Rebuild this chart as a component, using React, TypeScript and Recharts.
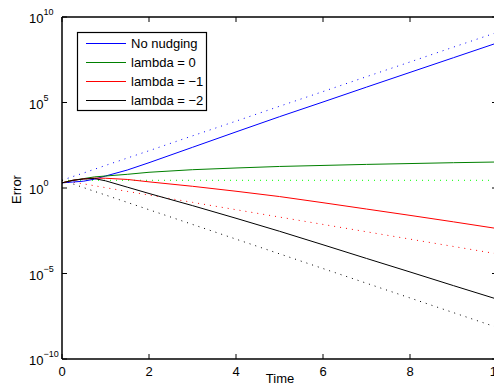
import React from 'react';
import { LineChart, Line, XAxis, YAxis } from 'recharts';

// time samples
const TIMES = [0, 0.25, 0.5, 0.75, 1, 1.5, 2, 3, 4, 5, 6, 7, 8, 9, 10];

// log10(Error)
const NO_NUDGING = [0.3, 0.35, 0.4, 0.52, 0.7, 1.05, 1.48, 2.38, 3.28, 4.17, 5.03, 5.9, 6.76, 7.62, 8.48];
const LAMBDA_0 = [0.3, 0.45, 0.55, 0.65, 0.7, 0.8, 0.92, 1.07, 1.17, 1.26, 1.32, 1.38, 1.43, 1.48, 1.52];
const LAMBDA_M1 = [0.3, 0.45, 0.53, 0.58, 0.57, 0.5, 0.36, 0.1, -0.19, -0.5, -0.86, -1.23, -1.6, -1.98, -2.37];
const LAMBDA_M2 = [0.3, 0.45, 0.53, 0.55, 0.42, 0.05, -0.32, -1.03, -1.77, -2.53, -3.32, -4.12, -4.91, -5.71, -6.5];

const NO_NUDGING_DOT = [0.45, 0.67, 0.88, 1.1, 1.32, 1.75, 2.18, 3.05, 3.91, 4.78, 5.64, 6.51, 7.37, 8.24, 9.1];
const LAMBDA_0_DOT = [0.45, 0.45, 0.45, 0.45, 0.45, 0.45, 0.45, 0.45, 0.45, 0.45, 0.45, 0.45, 0.45, 0.45, 0.45];
const LAMBDA_M1_DOT = [0.45, 0.34, 0.24, 0.13, 0.02, -0.2, -0.41, -0.84, -1.27, -1.7, -2.13, -2.56, -2.99, -3.42, -3.85];
const LAMBDA_M2_DOT = [0.45, 0.24, 0.02, -0.2, -0.41, -0.84, -1.27, -2.13, -2.99, -3.85, -4.71, -5.57, -6.43, -7.29, -8.15];

const X_TICKS = [0, 2, 4, 6, 8, 10];
const Y_EXPONENTS = [-10, -5, 0, 5, 10];
const Y_TICKS = Y_EXPONENTS.map((e) => Math.pow(10, e));

const LEGEND_ITEMS = [
  { label: 'No nudging', color: '#0000ff' },
  { label: 'lambda = 0', color: '#008000' },
  { label: 'lambda = \u22121', color: '#ff0000' },
  { label: 'lambda = \u22122', color: '#000000' },
];

const data = TIMES.map((t, i) => ({
  t,
  nn: Math.pow(10, NO_NUDGING[i]),
  l0: Math.pow(10, LAMBDA_0[i]),
  l1: Math.pow(10, LAMBDA_M1[i]),
  l2: Math.pow(10, LAMBDA_M2[i]),
  nnd: Math.pow(10, NO_NUDGING_DOT[i]),
  l0d: Math.pow(10, LAMBDA_0_DOT[i]),
  l1d: Math.pow(10, LAMBDA_M1_DOT[i]),
  l2d: Math.pow(10, LAMBDA_M2_DOT[i]),
}));

const W = 494;
const H = 384;
const PL = 54;
const PR = 489;
const PT = 9;
const PB = 351;
const LEFT_W = 30;
const RIGHT_W = 1;
const TOP_H = 1;
const BOTTOM_H = 25;
const M = { top: PT - TOP_H, right: W - PR - RIGHT_W, bottom: H - PB - BOTTOM_H, left: PL - LEFT_W };
const FONT = '"Liberation Sans", Arial, Helvetica, sans-serif';
const TICK = 5;

const expLabel = (v: number) => {
  const e = Math.round(Math.log10(v));
  return e < 0 ? '\u2212' + Math.abs(e) : String(e);
};

const LeftTick = (props: any) => {
  const { y, payload } = props;
  return (
    <g>
      <line x1={PL} x2={PL + TICK} y1={y} y2={y} stroke="#000" strokeWidth={1} />
      <text x={PL - 33} y={y + 6} fontSize={13} fontFamily={FONT} fill="#000" textAnchor="start">
        10
        <tspan dy={-8} fontSize={9}>{expLabel(payload.value)}</tspan>
      </text>
    </g>
  );
};

const RightTick = (props: any) => {
  const { y } = props;
  return <line x1={PR - TICK} x2={PR} y1={y} y2={y} stroke="#000" strokeWidth={1} />;
};

const BottomTick = (props: any) => {
  const { x, payload } = props;
  return (
    <g>
      <line x1={x} x2={x} y1={PB} y2={PB - TICK} stroke="#000" strokeWidth={1} />
      <text x={x} y={PB + 17} fontSize={13} fontFamily={FONT} fill="#000" textAnchor="middle">
        {payload.value}
      </text>
    </g>
  );
};

const TopTick = (props: any) => {
  const { x } = props;
  return <line x1={x} x2={x} y1={PT} y2={PT + TICK} stroke="#000" strokeWidth={1} />;
};

const axisLine = { stroke: '#000', strokeWidth: 1.5 };
const DOT = '1 5';

export default function App() {
  return (
    <div style={{ position: 'relative', width: W, height: H, fontFamily: FONT }}>
      <LineChart width={W} height={H} data={data} margin={M}>
        <XAxis
          xAxisId="bottom"
          dataKey="t"
          type="number"
          domain={[0, 10]}
          ticks={X_TICKS}
          interval={0}
          height={BOTTOM_H}
          tickLine={false}
          axisLine={axisLine}
          tick={BottomTick}
        />
        <XAxis
          xAxisId="top"
          orientation="top"
          dataKey="t"
          type="number"
          domain={[0, 10]}
          ticks={X_TICKS}
          interval={0}
          height={TOP_H}
          tickLine={false}
          axisLine={axisLine}
          tick={TopTick}
        />
        <YAxis
          yAxisId="left"
          type="number"
          scale="log"
          domain={[1e-10, 1e10]}
          allowDataOverflow
          ticks={Y_TICKS}
          interval={0}
          width={LEFT_W}
          tickLine={false}
          axisLine={axisLine}
          tick={LeftTick}
        />
        <YAxis
          yAxisId="right"
          orientation="right"
          type="number"
          scale="log"
          domain={[1e-10, 1e10]}
          allowDataOverflow
          ticks={Y_TICKS}
          interval={0}
          width={RIGHT_W}
          tickLine={false}
          axisLine={axisLine}
          tick={RightTick}
        />
        <Line xAxisId="bottom" yAxisId="left" dataKey="nnd" stroke="#0000ff" strokeWidth={1} strokeDasharray={DOT} dot={false} isAnimationActive={false} />
        <Line xAxisId="bottom" yAxisId="left" dataKey="l0d" stroke="#00ff00" strokeWidth={1} strokeDasharray={DOT} dot={false} isAnimationActive={false} />
        <Line xAxisId="bottom" yAxisId="left" dataKey="l1d" stroke="#ff0000" strokeWidth={1} strokeDasharray={DOT} dot={false} isAnimationActive={false} />
        <Line xAxisId="top" yAxisId="right" dataKey="l2d" stroke="#000000" strokeWidth={1} strokeDasharray={DOT} dot={false} isAnimationActive={false} />
        <Line xAxisId="bottom" yAxisId="left" dataKey="nn" stroke="#0000ff" strokeWidth={1} dot={false} isAnimationActive={false} />
        <Line xAxisId="bottom" yAxisId="left" dataKey="l0" stroke="#008000" strokeWidth={1} dot={false} isAnimationActive={false} />
        <Line xAxisId="bottom" yAxisId="left" dataKey="l1" stroke="#ff0000" strokeWidth={1} dot={false} isAnimationActive={false} />
        <Line xAxisId="bottom" yAxisId="left" dataKey="l2" stroke="#000000" strokeWidth={1} dot={false} isAnimationActive={false} />
      </LineChart>

      <svg
        width={131}
        height={80}
        style={{ position: 'absolute', left: 69, top: 24, overflow: 'visible' }}
      >
        <rect x={0.5} y={0.5} width={129} height={78} fill="#fff" stroke="#000" strokeWidth={1.2} />
        {LEGEND_ITEMS.map((it, i) => (
          <g key={it.label}>
            <line x1={9} x2={49} y1={11.5 + i * 19} y2={11.5 + i * 19} stroke={it.color} strokeWidth={1} />
            <text x={54} y={16 + i * 19} fontSize={13} fontFamily={FONT} fill="#000">
              {it.label}
            </text>
          </g>
        ))}
      </svg>

      <div style={{ position: 'absolute', left: 252, top: 363, width: 40, textAlign: 'center', fontSize: 13, lineHeight: '15px', color: '#000' }}>
        Time
      </div>
      <div
        style={{
          position: 'absolute',
          left: -12,
          top: 174,
          width: 40,
          height: 15,
          textAlign: 'center',
          fontSize: 13,
          lineHeight: '15px',
          color: '#000',
          transform: 'rotate(-90deg)',
        }}
      >
        Error
      </div>
    </div>
  );
}
